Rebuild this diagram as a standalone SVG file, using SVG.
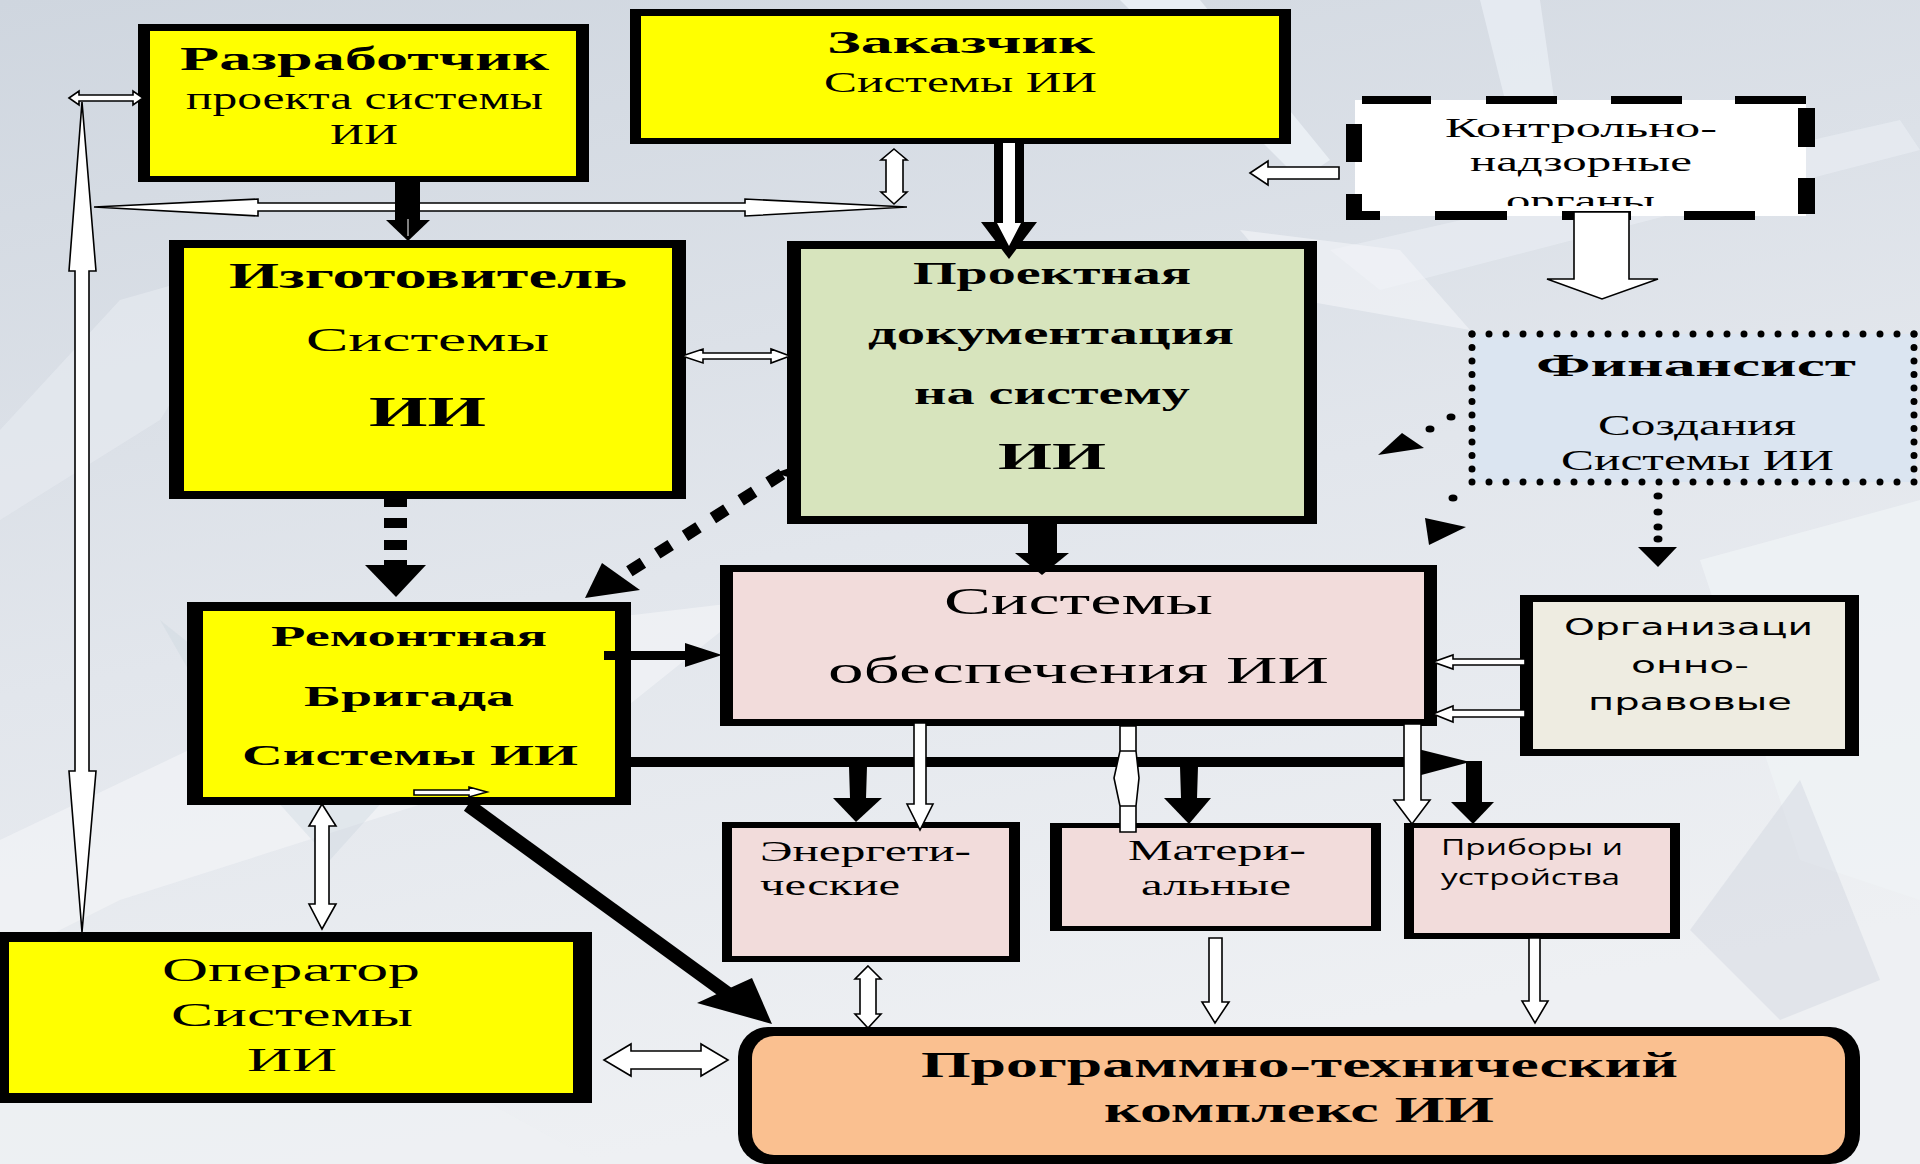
<svg xmlns="http://www.w3.org/2000/svg" width="1920" height="1164" viewBox="0 0 1920 1164">
<style>
.s{font-family:"Liberation Serif","Times New Roman",serif;fill:#000}
.b{font-weight:bold}
.v{font-family:"DejaVu Sans",Verdana,sans-serif;fill:#000}
.c{font-family:"Open Sans","Noto Sans",sans-serif;fill:#000}
.h{fill:#fff;stroke:#000;stroke-width:1.6;stroke-linejoin:miter}
.k{fill:#000}
.dot{fill:none;stroke:#000;stroke-width:7;stroke-linecap:round}
</style>
<defs>
<linearGradient id="bg" x1="0" y1="0" x2="0.3" y2="1">
<stop offset="0" stop-color="#cfd6df"/>
<stop offset="0.55" stop-color="#e2e6ec"/>
<stop offset="1" stop-color="#eef0f3"/>
</linearGradient>
<clipPath id="clipK"><rect x="1355" y="96" width="460" height="110"/></clipPath>
</defs>

<g id="background">
<rect x="0" y="0" width="1920" height="1164" fill="url(#bg)"/>
<polygon points="0,430 120,300 260,260 160,420 0,520" fill="#e6eaef" opacity="0.7"/>
<polygon points="0,840 420,640 760,600 560,760 120,900 0,960" fill="#f2f4f6" opacity="0.7"/>
<polygon points="1120,0 1200,0 1330,160 1300,180" fill="#eef2f7" opacity="0.8"/>
<polygon points="1480,0 1540,0 1560,140 1520,160" fill="#e9eef4" opacity="0.8"/>
<polygon points="1330,250 1900,120 1920,150 1380,290" fill="#e8edf2" opacity="0.7"/>
<polygon points="1700,560 1920,500 1920,900 1800,860" fill="#eff2f5" opacity="0.8"/>
<polygon points="0,1080 300,1000 600,1164 0,1164" fill="#eef0f3" opacity="0.8"/>
<polygon points="1240,230 1400,250 1470,330 1300,300" fill="#f3f5f8" opacity="0.6"/>
<polygon points="160,620 260,700 420,760 330,860 240,760" fill="#c9d3de" opacity="0.35"/>
<polygon points="1690,930 1800,780 1880,980 1780,1020" fill="#c8cfd9" opacity="0.35"/>
</g>

<g id="n-razrab">
<rect class="k" x="138" y="24" width="451" height="158"/>
<rect x="150" y="31" width="426" height="145" fill="#ffff00"/>
<text class="s b" x="180" y="70" font-size="33" textLength="369" lengthAdjust="spacingAndGlyphs">Разработчик</text>
<text class="s" x="186" y="109" font-size="32" textLength="357" lengthAdjust="spacingAndGlyphs">проекта системы</text>
<text class="s" x="330" y="144" font-size="29" textLength="68" lengthAdjust="spacingAndGlyphs">ИИ</text>
</g>

<g id="n-zakaz">
<rect class="k" x="630" y="9" width="661" height="135"/>
<rect x="641" y="16" width="638" height="122" fill="#ffff00"/>
<text class="s b" x="827" y="53" font-size="31" textLength="268" lengthAdjust="spacingAndGlyphs">Заказчик</text>
<text class="s" x="824" y="92" font-size="29" textLength="273" lengthAdjust="spacingAndGlyphs">Системы ИИ</text>
</g>

<g id="n-kontrol">
<rect x="1355" y="100" width="451" height="116" fill="#fff"/>
<g clip-path="url(#clipK)">
<text class="s" x="1445" y="137" font-size="28" textLength="272" lengthAdjust="spacingAndGlyphs">Контрольно-</text>
<text class="s" x="1470" y="171" font-size="28" textLength="222" lengthAdjust="spacingAndGlyphs">надзорные</text>
<text class="s" x="1506" y="210" font-size="28" textLength="149" lengthAdjust="spacingAndGlyphs">органы</text>
</g>
<rect class="k" x="1362" y="96" width="69" height="8"/>
<rect class="k" x="1486" y="96" width="71" height="8"/>
<rect class="k" x="1611" y="96" width="71" height="8"/>
<rect class="k" x="1735" y="96" width="71" height="8"/>
<rect class="k" x="1798" y="108" width="17" height="39"/>
<rect class="k" x="1798" y="178" width="17" height="36"/>
<rect class="k" x="1346" y="211" width="34" height="9"/>
<rect class="k" x="1435" y="211" width="72" height="9"/>
<rect class="k" x="1562" y="211" width="69" height="9"/>
<rect class="k" x="1684" y="211" width="71" height="9"/>
<rect class="k" x="1346" y="124" width="16" height="38"/>
<rect class="k" x="1346" y="194" width="16" height="26"/>
</g>

<g id="n-izgot">
<rect class="k" x="169" y="240" width="517" height="259"/>
<rect x="184" y="248" width="488" height="243" fill="#ffff00"/>
<text class="s b" x="229" y="288" font-size="35" textLength="398" lengthAdjust="spacingAndGlyphs">Изготовитель</text>
<text class="s" x="306" y="351" font-size="34" textLength="243" lengthAdjust="spacingAndGlyphs">Системы</text>
<text class="s b" x="369" y="426" font-size="42" textLength="117" lengthAdjust="spacingAndGlyphs">ИИ</text>
</g>

<g id="n-proekt">
<rect class="k" x="787" y="241" width="530" height="283"/>
<rect x="801" y="249" width="503" height="267" fill="#d7e4bd"/>
<text class="s b" x="913" y="284" font-size="32" textLength="278" lengthAdjust="spacingAndGlyphs">Проектная</text>
<text class="s b" x="868" y="344" font-size="32" textLength="366" lengthAdjust="spacingAndGlyphs">документация</text>
<text class="s b" x="914" y="404" font-size="32" textLength="276" lengthAdjust="spacingAndGlyphs">на систему</text>
<text class="s b" x="998" y="469" font-size="37" textLength="108" lengthAdjust="spacingAndGlyphs">ИИ</text>
</g>

<g id="n-finans">
<rect x="1472" y="334" width="444" height="148" fill="#dbe5f1"/>
<line class="dot" x1="1472" y1="334" x2="1916" y2="334" stroke-dasharray="0 17"/>
<line class="dot" x1="1472" y1="482" x2="1916" y2="482" stroke-dasharray="0 17"/>
<line class="dot" x1="1472" y1="334" x2="1472" y2="482" stroke-dasharray="0 13.5"/>
<line class="dot" x1="1914" y1="334" x2="1914" y2="482" stroke-dasharray="0 13.5"/>
<text class="s b" x="1536" y="376" font-size="32" textLength="320" lengthAdjust="spacingAndGlyphs">Финансист</text>
<text class="s" x="1598" y="435" font-size="29" textLength="198" lengthAdjust="spacingAndGlyphs">Создания</text>
<text class="s" x="1561" y="470" font-size="29" textLength="273" lengthAdjust="spacingAndGlyphs">Системы ИИ</text>
</g>

<g id="n-remont">
<rect class="k" x="187" y="602" width="444" height="203"/>
<rect x="203" y="611" width="412" height="186" fill="#ffff00"/>
<text class="s b" x="271" y="646" font-size="30" textLength="276" lengthAdjust="spacingAndGlyphs">Ремонтная</text>
<text class="s b" x="304" y="706" font-size="30" textLength="210" lengthAdjust="spacingAndGlyphs">Бригада</text>
<text class="s b" x="242" y="765" font-size="30" textLength="336" lengthAdjust="spacingAndGlyphs">Системы ИИ</text>
</g>

<g id="n-sysobesp">
<rect class="k" x="720" y="565" width="717" height="161"/>
<rect x="733" y="572" width="691" height="147" fill="#f2dcdb"/>
<text class="s" x="944" y="614" font-size="38" textLength="269" lengthAdjust="spacingAndGlyphs">Системы</text>
<text class="s" x="828" y="683" font-size="38" textLength="501" lengthAdjust="spacingAndGlyphs">обеспечения ИИ</text>
</g>

<g id="n-orgprav">
<rect class="k" x="1520" y="595" width="339" height="161"/>
<rect x="1533" y="602" width="312" height="147" fill="#eeece1"/>
<text class="v" x="1564" y="635" font-size="23" textLength="249" lengthAdjust="spacingAndGlyphs">Организаци</text>
<text class="v" x="1631" y="673" font-size="23" textLength="118" lengthAdjust="spacingAndGlyphs">онно-</text>
<text class="v" x="1588" y="710" font-size="23" textLength="204" lengthAdjust="spacingAndGlyphs">правовые</text>
</g>

<g id="n-energ">
<rect class="k" x="722" y="822" width="298" height="140"/>
<rect x="732" y="828" width="277" height="128" fill="#f2dcdb"/>
<text class="s" x="760" y="861" font-size="29" textLength="211" lengthAdjust="spacingAndGlyphs">Энергети-</text>
<text class="s" x="760" y="895" font-size="29" textLength="140" lengthAdjust="spacingAndGlyphs">ческие</text>
</g>

<g id="n-mater">
<rect class="k" x="1050" y="823" width="331" height="108"/>
<rect x="1062" y="828" width="309" height="98" fill="#f2dcdb"/>
<text class="s" x="1128" y="860" font-size="29" textLength="178" lengthAdjust="spacingAndGlyphs">Матери-</text>
<text class="s" x="1141" y="895" font-size="29" textLength="150" lengthAdjust="spacingAndGlyphs">альные</text>
</g>

<g id="n-pribory">
<rect class="k" x="1404" y="823" width="276" height="116"/>
<rect x="1414" y="828" width="256" height="105" fill="#f2dcdb"/>
<text class="c" x="1441" y="855" font-size="21" textLength="182" lengthAdjust="spacingAndGlyphs">Приборы и</text>
<text class="c" x="1441" y="885" font-size="21" textLength="179" lengthAdjust="spacingAndGlyphs">устройства</text>
</g>

<g id="n-operator">
<rect class="k" x="0" y="932" width="592" height="171"/>
<rect x="9" y="942" width="564" height="151" fill="#ffff00"/>
<text class="s" x="162" y="981" font-size="34" textLength="258" lengthAdjust="spacingAndGlyphs">Оператор</text>
<text class="s" x="171" y="1026" font-size="34" textLength="242" lengthAdjust="spacingAndGlyphs">Системы</text>
<text class="s" x="247" y="1071" font-size="34" textLength="90" lengthAdjust="spacingAndGlyphs">ИИ</text>
</g>

<g id="n-ptk">
<rect class="k" x="738" y="1027" width="1122" height="137" rx="30" ry="30"/>
<rect x="752" y="1036" width="1093" height="119" rx="22" ry="22" fill="#fac090"/>
<text class="s b" x="921" y="1077" font-size="35" textLength="757" lengthAdjust="spacingAndGlyphs">Программно-технический</text>
<text class="s b" x="1104" y="1122" font-size="35" textLength="390" lengthAdjust="spacingAndGlyphs">комплекс ИИ</text>
</g>

<g id="connectors">
<polygon class="h" points="69,98 79,91 79,95 133,95 133,91 143,98 133,105 133,101 79,101 79,105"/>
<polygon class="h" points="82,102 96,271 89,271 89,771 96,771 82,932 69,771 75,771 75,271 69,271"/>
<polygon class="h" points="94,207 258,199 258,203 745,203 745,199 907,207 745,216 745,211 258,211 258,216"/>
<polygon class="h" points="894,149 907,160 903,160 903,192 907,192 894,204 881,192 886,192 886,160 881,160"/>
<rect class="k" x="395" y="176" width="25" height="46"/>
<polygon class="k" points="386,220 430,220 408,241"/>
<line x1="408" y1="219" x2="408" y2="236" stroke="#fff" stroke-width="1"/>
<rect class="k" x="994" y="143" width="30" height="80"/>
<polygon class="k" points="981,222 1037,222 1009,259"/>
<polygon fill="#fff" points="1003,143 1015,143 1015,223 1021,223 1009,246 997,223 1003,223"/>
<polygon class="h" points="1250,173 1268,161 1268,167 1339,167 1339,179 1268,179 1268,185"/>
<polygon class="h" points="1574,212 1629,212 1629,279 1658,279 1602,299 1547,279 1574,279"/>
<ellipse cx="1451" cy="417" rx="4.5" ry="3.5"/>
<ellipse cx="1430" cy="429" rx="4.5" ry="3.5"/>
<polygon class="k" points="1378,455 1402,433 1424,448"/>
<ellipse cx="1453" cy="498" rx="4.5" ry="3.5"/>
<polygon class="k" points="1429,545 1425,518 1466,527"/>
<ellipse cx="1658" cy="496" rx="4.5" ry="3.5"/>
<ellipse cx="1658" cy="512" rx="4.5" ry="3.5"/>
<ellipse cx="1658" cy="527" rx="4.5" ry="3.5"/>
<ellipse cx="1658" cy="539" rx="4.5" ry="3.5"/>
<polygon class="k" points="1638,547 1677,547 1658,567"/>
<polygon class="h" points="682,356 703,349 703,353 771,353 771,349 790,356 771,363 771,359 703,359 703,363"/>
<rect class="k" x="384" y="499" width="23" height="8"/>
<rect class="k" x="384" y="518" width="23" height="10"/>
<rect class="k" x="384" y="540" width="23" height="10"/>
<rect class="k" x="384" y="560" width="23" height="6"/>
<polygon class="k" points="365,565 426,565 396,597"/>
<polygon class="k" points="775,473 801,464 801,481"/>
<line x1="782" y1="474" x2="622" y2="576" stroke="#000" stroke-width="12" stroke-dasharray="16 17"/>
<polygon class="k" points="585,598 602,563 640,590"/>
<rect class="k" x="1028" y="516" width="29" height="38"/>
<polygon class="k" points="1015,553 1069,553 1042,575"/>
<rect class="k" x="604" y="651" width="82" height="9"/>
<polygon class="k" points="685,643 685,667 722,655"/>
<rect class="k" x="627" y="757" width="796" height="10"/>
<polygon class="k" points="1410,747 1470,762 1410,778"/>
<polygon class="k" points="849,767 867,767 866,798 850,798"/>
<polygon class="k" points="833,798 882,798 856,822"/>
<polygon class="k" points="1180,767 1198,767 1197,798 1181,798"/>
<polygon class="k" points="1164,798 1211,798 1189,824"/>
<rect class="k" x="1466" y="761" width="16" height="42"/>
<polygon class="k" points="1451,802 1494,802 1473,824"/>
<polygon class="h" points="914,723 926,723 926,804 933,804 920,830 907,804 914,804"/>
<polygon class="h" points="1120,726 1136,726 1136,751 1139,778 1136,806 1136,832 1120,832 1120,806 1114,778 1120,751"/>
<path d="M1120,751 H1136 M1120,806 H1136" stroke="#000" stroke-width="1.6"/>
<polygon class="h" points="1404,724 1421,724 1421,800 1430,800 1412,824 1394,800 1404,800"/>
<polygon class="h" points="1433,662 1453,655 1453,659 1525,659 1525,665 1453,665 1453,669"/>
<polygon class="h" points="1433,714 1453,706 1453,710 1525,710 1525,717 1453,717 1453,722"/>
<polygon class="h" points="414,790 469,790 469,787 487,792 469,797 469,795 414,795"/>
<line x1="468" y1="805" x2="728" y2="994" stroke="#000" stroke-width="14"/>
<polygon class="k" points="697,1003 752,978 772,1024"/>
<polygon class="h" points="322,804 336,826 329,826 329,904 336,904 322,929 309,904 315,904 315,826 309,826"/>
<polygon class="h" points="604,1060 631,1044 631,1051 701,1051 701,1044 728,1060 701,1076 701,1069 631,1069 631,1076"/>
<polygon class="h" points="868,966 881,979 876,979 876,1014 881,1014 868,1028 855,1014 860,1014 860,979 855,979"/>
<polygon class="h" points="1209,938 1222,938 1222,1002 1229,1002 1215,1023 1202,1002 1209,1002"/>
<polygon class="h" points="1529,938 1540,938 1540,1001 1548,1001 1535,1023 1522,1001 1529,1001"/>
</g>
</svg>
